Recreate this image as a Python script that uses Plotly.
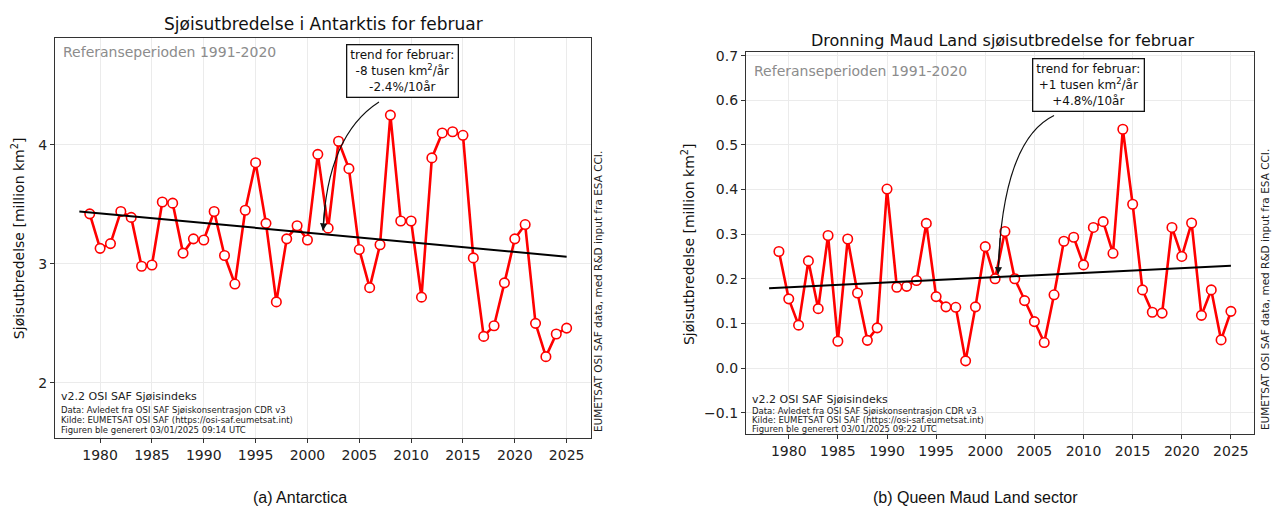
import plotly.graph_objects as go

years = list(range(1979, 2026))
ant_extent = [3.42, 3.13, 3.17, 3.44, 3.39, 2.98, 2.99, 3.52, 3.51, 3.09,
              3.21, 3.20, 3.44, 3.07, 2.83, 3.45, 3.85, 3.34, 2.68, 3.21,
              3.32, 3.20, 3.92, 3.30, 4.03, 3.80, 3.12, 2.80, 3.16, 4.25,
              3.36, 3.36, 2.72, 3.89, 4.10, 4.11, 4.08, 3.05, 2.39, 2.48,
              2.84, 3.21, 3.33, 2.50, 2.22, 2.41, 2.46]
dml_extent = [0.261, 0.155, 0.096, 0.240, 0.133, 0.297, 0.060, 0.289, 0.168, 0.062,
              0.090, 0.401, 0.181, 0.183, 0.196, 0.324, 0.160, 0.137, 0.136, 0.016,
              0.137, 0.272, 0.200, 0.306, 0.200, 0.151, 0.104, 0.057, 0.164, 0.284,
              0.293, 0.231, 0.315, 0.328, 0.257, 0.535, 0.367, 0.175, 0.125, 0.123,
              0.315, 0.250, 0.325, 0.118, 0.175, 0.063, 0.127]
trend_years = [1978, 2025]
ant_trend = [3.44, 3.06]
dml_trend = [0.179, 0.229]

x_ticks = list(range(1980, 2030, 5))
ant_yticks = [2, 3, 4]
dml_yticks = [-0.1, 0.0, 0.1, 0.2, 0.3, 0.4, 0.5, 0.6, 0.7]

# annotation anchors (year, value)
ant_box = (2009.2, 4.62)
ant_arrow = [(2006.9, 4.36), (2001.9, 4.08), (2001.5, 3.28)]
dml_box = (2010.5, 0.634)
dml_arrow = [(2007.0, 0.566), (2001.7, 0.51), (2001.3, 0.21)]

FONT = "DejaVu Sans"
RED = "#ff0000"

fig = go.Figure()

def add_series(xa, ya, vals, trend):
    fig.add_trace(go.Scatter(x=years, y=vals, mode="lines+markers", xaxis=xa, yaxis=ya,
                             line=dict(color=RED, width=2.6),
                             marker=dict(symbol="circle", size=9.5, color="white",
                                         line=dict(color=RED, width=1.6)),
                             showlegend=False))
    fig.add_trace(go.Scatter(x=trend_years, y=trend, mode="lines", xaxis=xa, yaxis=ya,
                             line=dict(color="black", width=2), showlegend=False))

add_series("x", "y", ant_extent, ant_trend)
add_series("x2", "y2", dml_extent, dml_trend)

axis_common = dict(showline=True, mirror=True, linecolor="#333333", linewidth=1.3,
                   ticks="outside", ticklen=4, tickcolor="#333333",
                   showgrid=True, gridcolor="#ebebeb", gridwidth=1, zeroline=False,
                   tickfont=dict(family=FONT, size=14, color="#222222"))

fig.update_layout(
    width=1276, height=510, margin=dict(l=0, r=0, t=0, b=0),
    paper_bgcolor="white", plot_bgcolor="white",
    xaxis=dict(domain=[55/1276, 591/1276], range=[1975.65, 2027.35],
               tickvals=x_ticks, anchor="y", **axis_common),
    yaxis=dict(domain=[1-437/510, 1-34/510], range=[1.54, 4.9],
               tickvals=ant_yticks, anchor="x", **axis_common),
    xaxis2=dict(domain=[746/1276, 1254/1276], range=[1975.65, 2027.35],
                tickvals=x_ticks, anchor="y2", **axis_common),
    yaxis2=dict(domain=[1-433/510, 1-48/510], range=[-0.147, 0.709],
                tickvals=dml_yticks, tickformat=".1f", anchor="x2", **axis_common),
)

def bez(p, t):
    (x0, y0), (cx, cy), (x1, y1) = p
    return ((1-t)**2*x0 + 2*t*(1-t)*cx + t*t*x1, (1-t)**2*y0 + 2*t*(1-t)*cy + t*t*y1)

def add_arrow(xa, ya, p):
    (x0, y0), (cx, cy), (x1, y1) = p
    fig.add_shape(type="path", xref=xa, yref=ya,
                  path=f"M {x0},{y0} Q {cx},{cy} {x1},{y1}",
                  line=dict(color="#111111", width=1.2))
    bx, by = bez(p, 0.85)
    fig.add_annotation(x=x1, y=y1, ax=bx, ay=by, xref=xa, yref=ya, axref=xa, ayref=ya,
                       text="", showarrow=True, arrowhead=2, arrowsize=1.2,
                       arrowwidth=1.2, arrowcolor="#111111")

add_arrow("x", "y", ant_arrow)
add_arrow("x2", "y2", dml_arrow)

def box(xa, ya, pos, txt):
    fig.add_annotation(x=pos[0], y=pos[1], xref=xa, yref=ya, text=txt, showarrow=False,
                       font=dict(family=FONT, size=12, color="#111111"),
                       bgcolor="white", bordercolor="#111111", borderwidth=1.3,
                       borderpad=3, align="center", xanchor="center", yanchor="middle")

box("x", "y", ant_box, "trend for februar:<br>-8 tusen km<sup>2</sup>/år<br>-2.4%/10år")
box("x2", "y2", dml_box, "trend for februar:<br>+1 tusen km<sup>2</sup>/år<br>+4.8%/10år")

def ptext(x, y, text, size, family=FONT, color="#111111", angle=0, yanchor="middle"):
    fig.add_annotation(x=x/1276, y=1-y/510, xref="paper", yref="paper", showarrow=False,
                       text=text, textangle=angle, xanchor="center", yanchor=yanchor,
                       font=dict(family=family, size=size, color=color))

# titles
ptext(323, 20, "Sjøisutbredelse i Antarktis for februar", 17)
ptext(1002, 37, "Dronning Maud Land sjøisutbredelse for februar", 16)

# y titles
ptext(18, 236, "Sjøisutbredelse [million km<sup>2</sup>]", 14, angle=-90)
ptext(688, 242, "Sjøisutbredelse [million km<sup>2</sup>]", 14, angle=-90)

# reference period
for xa, ya, yv in (("x", "y", 0.965), ("x2", "y2", 0.95)):
    fig.add_annotation(x=0.012, y=yv, xref=f"{xa} domain", yref=f"{ya} domain",
                       showarrow=False, text="Referanseperioden 1991-2020",
                       font=dict(family=FONT, size=14, color="#8c8c8c"),
                       xanchor="left", yanchor="middle")

# footers
def footer(xa, ya, stamp, ys):
    lines = ["v2.2 OSI SAF Sjøisindeks",
             "Data: Avledet fra OSI SAF Sjøiskonsentrasjon CDR v3",
             "Kilde: EUMETSAT OSI SAF (https://osi-saf.eumetsat.int)",
             f"Figuren ble generert {stamp}"]
    for i, (ln, yv) in enumerate(zip(lines, ys)):
        fig.add_annotation(x=0.008, y=yv, xref=f"{xa} domain", yref=f"{ya} domain",
                           showarrow=False, text=ln,
                           font=dict(family=FONT, size=11 if i == 0 else 8.5, color="#222222"),
                           xanchor="left", yanchor="middle")

footer("x", "y", "03/01/2025 09:14 UTC", [0.102, 0.0695, 0.0447, 0.0199])
footer("x2", "y2", "03/01/2025 09:22 UTC", [0.088, 0.0595, 0.036, 0.013])

# vertical credits
for xp, yb in ((598, 434), (1265, 432)):
    ptext(xp, yb, "EUMETSAT OSI SAF data, med R&D input fra ESA CCI.", 10.5,
          color="#222222", angle=-90, yanchor="bottom")

# captions
ptext(300, 497, "(a) Antarctica", 16, family="Liberation Sans")
ptext(975, 497, "(b) Queen Maud Land sector", 16, family="Liberation Sans")

fig.write_html("out.html", config={"displayModeBar": False},
               post_script="document.body.style.margin='0';")
